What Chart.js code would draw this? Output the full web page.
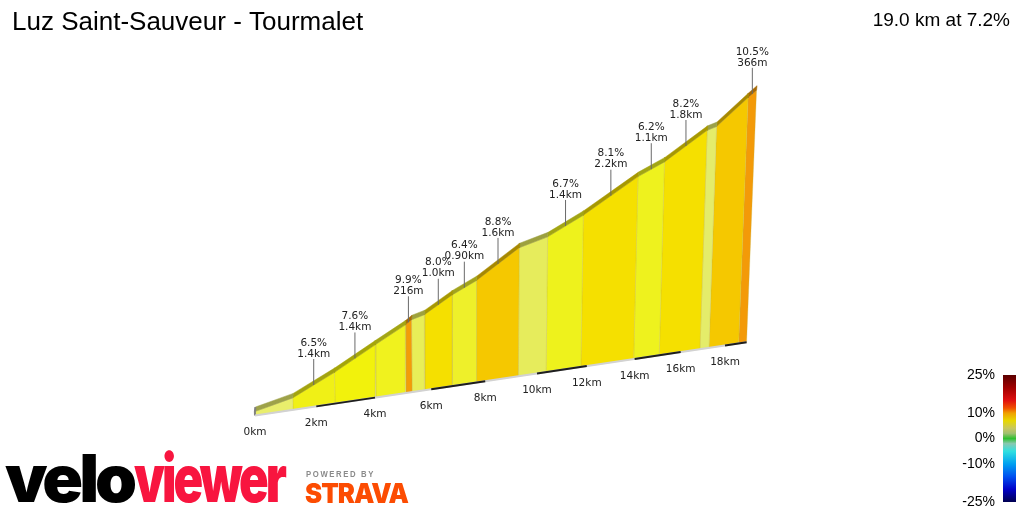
<!DOCTYPE html>
<html>
<head>
<meta charset="utf-8">
<script src="https://cdn.jsdelivr.net/npm/chart.js@4.4.1/dist/chart.umd.min.js"></script>
<style>
  html, body { margin: 0; padding: 0; background: #fff; }
  #wrap { width: 1024px; height: 512px; }
</style>
</head>
<body>
<div id="wrap"><canvas id="profile" width="1024" height="512"></canvas></div>
<script>
// climb data
const boundaryKm = [0, 1.23, 2.63, 4.03, 5.09, 5.31, 5.77, 6.77, 7.67, 9.27, 10.36, 11.76, 13.96, 15.06, 16.86, 17.27, 18.63, 19.0];
const boundaryElev = [0, 37, 128, 232, 309, 330, 347, 427, 485, 626, 667, 761, 939, 1007, 1162, 1180, 1330, 1368];
const segColors = ['#e9ee6c', '#f0f016', '#f2f20c', '#f0f21e', '#f39c08', '#e8ee58', '#f5e000', '#eef02a', '#f5c800',
  '#e6ec5c', '#eef21c', '#f5e000', '#eef21e', '#f5e000', '#e4ec6a', '#f5c800', '#f39a08'];

const pinSegs = [1, 2, 4, 6, 7, 8, 10, 11, 12, 13, 16];
const pinGrades = ['6.5%', '7.6%', '9.9%', '8.0%', '6.4%', '8.8%', '6.7%', '8.1%', '6.2%', '8.2%', '10.5%'];
const pinLengths = ['1.4km', '1.4km', '216m', '1.0km', '0.90km', '1.6km', '1.4km', '2.2km', '1.1km', '1.8km', '366m'];

const kmTicks = [0, 2, 4, 6, 8, 10, 12, 14, 16, 18];
const kmTickLabels = kmTicks.map(k => k + 'km');
const darkBands = [[2, 4], [6, 8], [10, 12], [14, 16], [18, 19]];

const legendTicks = [25, 10, 0, -10, -25];

// perspective projection of (km, metres) into chart units
const K = 0.0111, KM_UNIT = 31.33, ORIGIN_X = 255, ORIGIN_Y = 415.5, BASE_SLOPE = 0.149;
const M_UNIT = 0.2202, FLOOR = 18, VP_X = 470, VP_DIST = 7000;
const DEPTH = { x: 0.5, y: -4.5 };

function proj(d, e) {
  const p = 1 + K * d;
  const bx = ORIGIN_X + KM_UNIT * d / p;
  const by = ORIGIN_Y - BASE_SLOPE * (bx - ORIGIN_X);
  const h = M_UNIT * (e + FLOOR) / p;
  return { x: bx + h * (bx - VP_X) / VP_DIST, y: by - h };
}
const base = d => proj(d, -FLOOR);
const back = p => ({ x: p.x + DEPTH.x, y: p.y + DEPTH.y });

function elevAt(d) {
  for (let i = 1; i < boundaryKm.length; i++) {
    if (d <= boundaryKm[i]) {
      const t = (d - boundaryKm[i - 1]) / (boundaryKm[i] - boundaryKm[i - 1]);
      return boundaryElev[i - 1] + t * (boundaryElev[i] - boundaryElev[i - 1]);
    }
  }
  return boundaryElev[boundaryElev.length - 1];
}

function darken(hex, f) {
  const n = parseInt(hex.slice(1), 16);
  const r = Math.round(((n >> 16) & 255) * f), g = Math.round(((n >> 8) & 255) * f), b = Math.round((n & 255) * f);
  return `rgb(${r},${g},${b})`;
}

const datasets = [];

for (let i = 0; i < boundaryKm.length - 1; i++) {
  const d0 = boundaryKm[i], d1 = boundaryKm[i + 1];
  const t0 = proj(d0, boundaryElev[i]), t1 = proj(d1, boundaryElev[i + 1]);
  const b0 = base(d0), b1 = base(d1);
  datasets.push({
    data: [b0, b1, t1, t0, b0],
    fill: 'shape',
    backgroundColor: segColors[i],
    borderColor: 'rgba(190,180,70,0.35)',
    borderWidth: 0.8,
    pointRadius: 0,
    order: 30
  });
  datasets.push({
    data: [t0, t1, back(t1), back(t0), t0],
    fill: 'shape',
    backgroundColor: darken(segColors[i], 0.68),
    borderColor: darken(segColors[i], 0.68),
    borderWidth: 0.5,
    pointRadius: 0,
    order: 20
  });
}

// start wall
datasets.push({
  data: [base(0), proj(0, 0), back(proj(0, 0))],
  borderColor: '#808080',
  borderWidth: 2,
  pointRadius: 0,
  fill: false,
  order: 15
});

// base line with dark km bands
datasets.push({
  data: [base(0), base(19)],
  borderColor: '#d2d2d2',
  borderWidth: 2,
  pointRadius: 0,
  fill: false,
  order: 6
});
darkBands.forEach(([a, b]) => {
  datasets.push({
    data: [base(a), base(b)],
    borderColor: '#1e1e1e',
    borderWidth: 2,
    pointRadius: 0,
    fill: false,
    order: 5
  });
});

// label pins
const pinTops = [];
pinSegs.forEach(s => {
  const mid = (boundaryKm[s] + boundaryKm[s + 1]) / 2;
  const p = proj(mid, elevAt(mid));
  const top = { x: p.x, y: p.y - 26 };
  pinTops.push(top);
  datasets.push({
    data: [p, top],
    borderColor: '#6a6a6a',
    borderWidth: 1,
    pointRadius: 0,
    fill: false,
    order: 10
  });
});

const textPlugin = {
  id: 'texts',
  afterDraw(chart) {
    const c = chart.ctx;
    const xs = chart.scales.x, ys = chart.scales.y;
    const px = v => xs.getPixelForValue(v), py = v => ys.getPixelForValue(v);
    c.save();

    // titles
    c.fillStyle = '#000';
    c.textBaseline = 'middle';
    c.font = '26px "Liberation Sans", Arial, sans-serif';
    c.textAlign = 'left';
    c.fillText('Luz Saint-Sauveur - Tourmalet', 12, 23);
    c.font = '19px "Liberation Sans", Arial, sans-serif';
    c.textAlign = 'right';
    c.fillText('19.0 km at 7.2%', 1010, 21);

    // km labels
    c.fillStyle = '#222';
    c.font = '10.5px "DejaVu Sans", sans-serif';
    c.textAlign = 'center';
    kmTicks.forEach((k, i) => {
      const b = base(k);
      c.fillText(kmTickLabels[i], px(b.x), py(b.y) + 17);
    });

    // pin labels
    pinTops.forEach((t, i) => {
      c.fillText(pinGrades[i], px(t.x), py(t.y) - 16);
      c.fillText(pinLengths[i], px(t.x), py(t.y) - 5);
    });

    // gradient legend
    const bx = 1003, by = 375, bw = 13, bh = 127;
    const g = c.createLinearGradient(0, by, 0, by + bh);
    const stops = [[25, '#5a0000'], [20, '#a00000'], [15, '#e01010'], [12, '#f05000'], [10, '#f0a000'],
      [7, '#e8d800'], [4, '#c8c860'], [2, '#a0c070'], [0, '#30c030'], [-2, '#88c8b0'], [-5, '#30e0e0'],
      [-10, '#00a0f0'], [-15, '#0050f0'], [-20, '#0000c8'], [-25, '#000050']];
    stops.forEach(([v, col]) => g.addColorStop((25 - v) / 50, col));
    c.fillStyle = g;
    c.fillRect(bx, by, bw, bh);
    c.fillStyle = '#000';
    c.font = '14px "Liberation Sans", Arial, sans-serif';
    c.textAlign = 'right';
    legendTicks.forEach(v => {
      c.fillText(v + '%', 995, by + (25 - v) / 50 * bh);
    });

    // logos
    const fitText = (txt, x, y, w, font, color, spacing) => {
      c.save();
      c.font = font;
      c.letterSpacing = spacing || '0px';
      const mw = c.measureText(txt).width;
      c.translate(x, y);
      c.scale(w / mw, 1);
      c.fillStyle = color;
      c.textAlign = 'left';
      c.textBaseline = 'alphabetic';
      c.fillText(txt, 0, 0);
      c.restore();
    };
    fitText('velo', 5, 502, 128, '900 66px Inter, "Liberation Sans", sans-serif', '#000', '-4px');
    fitText('viewer', 134, 502, 150, '900 66px Inter, "Liberation Sans", sans-serif', '#f8153f', '-4px');
    fitText('POWERED BY', 306, 477, 69, 'bold 9.5px "Liberation Sans", Arial, sans-serif', '#8a8a8a', '2px');
    fitText('STRAVA', 305, 503, 103, '900 27px Inter, "Liberation Sans", sans-serif', '#fc4c02', '-1px');

    c.restore();
  }
};

new Chart(document.getElementById('profile').getContext('2d'), {
  type: 'line',
  data: { datasets },
  options: {
    responsive: false,
    animation: false,
    events: [],
    layout: { padding: 0 },
    elements: { line: { tension: 0 } },
    scales: {
      x: { type: 'linear', min: 0, max: 1024, display: false },
      y: { type: 'linear', min: 0, max: 512, reverse: true, display: false }
    },
    plugins: { legend: { display: false }, tooltip: { enabled: false } }
  },
  plugins: [textPlugin]
});
</script>
</body>
</html>
